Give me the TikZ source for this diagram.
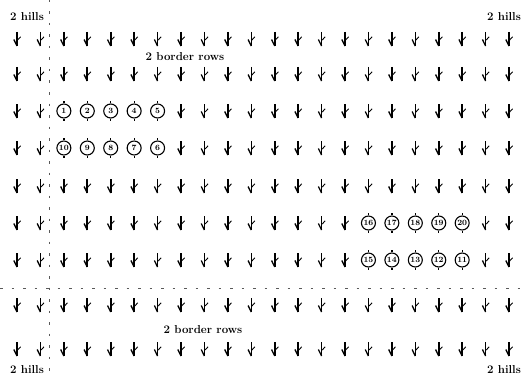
\documentclass[tikz,border=0pt]{standalone}
\begin{document}
\begin{tikzpicture}[x=1pt,y=-1pt,
  plant/.pic={
    \draw[line width=1.6pt] (0,-7) -- (0,7);
    \draw[line width=1.3pt] (-3.2,0.5) -- (0,7);
    \draw[line width=0.9pt] (0.6,1) -- (3.6,-2.2);
  },
  numc/.style={circle, draw, line width=1.1pt, inner sep=0pt, minimum size=14pt,
    font=\fontsize{8}{9}\selectfont\bfseries},
  stub/.style={line width=1.3pt},
  lbl/.style={font=\fontsize{11.5}{13}\selectfont\bfseries, inner sep=0pt},
  guide/.style={line width=0.6pt, dash pattern=on 2.5pt off 9pt, black!65}
]
\useasboundingbox (0,0) rectangle (526,377);
% guide lines
\coordinate (vt) at (49,0);
\coordinate (vb) at (49,377);
\coordinate (hl) at (0,288);
\coordinate (hr) at (526,288);
\draw[guide] (vt) -- (vb);
\draw[guide] (hl) -- (hr);
% plants
\foreach \r/\y in {1/39,2/74,3/111,4/148,5/186,6/223,7/260,8/305,9/349}{
  \foreach \k in {0,...,21}{
    \pgfmathtruncatemacro\skipit{(((\r==3)||(\r==4))&&(\k>=2)&&(\k<=6))||(((\r==6)||(\r==7))&&(\k>=15)&&(\k<=19)) ? 1 : 0}
    \ifnum\skipit=0
      \pic at ({17+23.43*\k},\y) {plant};
    \fi
  }
}
% numbered plants
\foreach \n [count=\i from 2] in {1,2,3,4,5}
  \node[numc] (c\n) at ({17+23.43*\i},111) {\n};
\foreach \n [count=\i from 2] in {10,9,8,7,6}
  \node[numc] (c\n) at ({17+23.43*\i},148) {\n};
\foreach \n [count=\i from 15] in {16,17,18,19,20}
  \node[numc] (c\n) at ({17+23.43*\i},223) {\n};
\foreach \n [count=\i from 15] in {15,14,13,12,11}
  \node[numc] (c\n) at ({17+23.43*\i},260) {\n};
\foreach \n in {1,...,20}{
  \draw[stub] (c\n.north) -- ++(0,-2.5);
  \draw[stub] (c\n.south) -- ++(0,2.5);
}
% labels
\node[lbl] (hTL) at (27,17) {2 hills};
\node[lbl] (hTR) at (504,17) {2 hills};
\node[lbl] (hBL) at (27,370) {2 hills};
\node[lbl] (hBR) at (504,370) {2 hills};
\node[lbl] (bT) at (185,57) {2 border rows};
\node[lbl] (bB) at (203,330) {2 border rows};
\end{tikzpicture}
\end{document}
